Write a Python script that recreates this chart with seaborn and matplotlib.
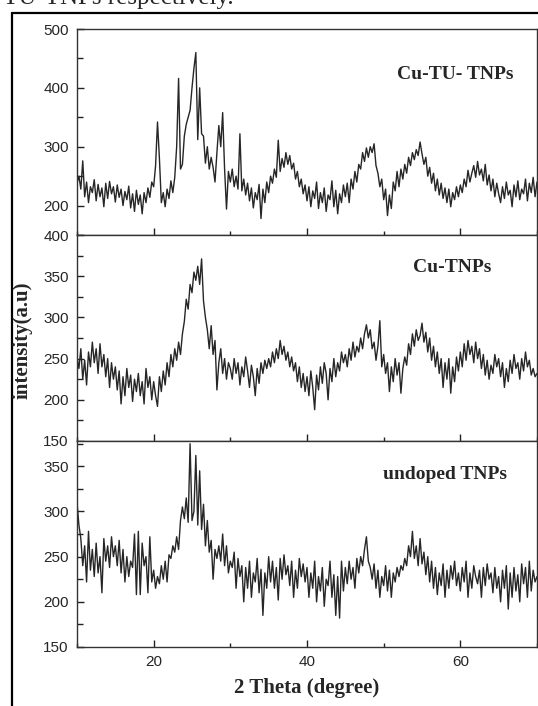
import matplotlib
matplotlib.use('Agg')
import matplotlib.pyplot as plt
from matplotlib.lines import Line2D
from matplotlib.ticker import MultipleLocator
import numpy as np
import seaborn as sns

# 2 theta scan grid, 10 -> 70 deg, step 0.25
two_theta = np.arange(241) * 0.25 + 10.0

# XRD intensities (a.u)
cu_tu_tnps = [
    238, 250, 228, 276, 215, 240, 205, 232, 222, 244, 208, 236, 215, 230, 198, 238, 212, 241, 220, 232,
    206, 235, 214, 228, 200, 224, 210, 233, 196, 220, 190, 226, 202, 218, 186, 222, 205, 230, 214, 240,
    232, 268, 342, 280, 205, 222, 198, 228, 212, 242, 222, 248, 300, 416, 262, 270, 318, 338, 350, 362,
    400, 433, 460, 312, 400, 322, 318, 272, 300, 262, 282, 265, 240, 290, 336, 300, 358, 262, 194, 258,
    240, 262, 232, 250, 228, 322, 225, 245, 218, 238, 208, 230, 196, 222, 210, 236, 178, 228, 205, 240,
    222, 250, 238, 262, 248, 311, 258, 280, 265, 290, 270, 285, 262, 272, 245, 258, 232, 245, 220, 235,
    208, 232, 198, 225, 212, 240, 195, 222, 205, 230, 190, 218, 210, 242, 198, 226, 186, 220, 205, 235,
    215, 238, 205, 245, 228, 258, 240, 270, 262, 290, 275, 298, 282, 300, 290, 305, 268, 255, 232, 245,
    210, 228, 183, 218, 195, 240, 225, 258, 232, 262, 245, 270, 255, 282, 268, 290, 278, 295, 285, 308,
    288, 270, 282, 250, 265, 238, 255, 225, 245, 218, 238, 212, 230, 205, 228, 198, 222, 210, 232, 215,
    235, 222, 245, 232, 260, 240, 255, 268, 248, 275, 252, 262, 242, 270, 235, 252, 225, 245, 215, 238,
    220, 205, 232, 212, 240, 218, 226, 198, 235, 215, 242, 210, 228, 220, 245, 208, 238, 222, 248, 215,
    240]

cu_tnps = [
    252, 238, 262, 225, 248, 218, 258, 240, 270, 245, 262, 232, 268, 240, 255, 228, 250, 215, 245, 225,
    240, 212, 235, 195, 228, 205, 238, 215, 230, 198, 225, 210, 232, 205, 222, 195, 238, 215, 228, 200,
    222, 205, 192, 228, 210, 235, 218, 245, 228, 255, 240, 262, 248, 270, 255, 280, 295, 322, 310, 340,
    330, 355, 345, 362, 340, 371, 320, 300, 285, 262, 290, 255, 272, 212, 245, 262, 232, 250, 225, 245,
    238, 225, 250, 232, 245, 218, 240, 228, 252, 235, 215, 242, 228, 205, 238, 220, 245, 232, 248, 238,
    250, 240, 258, 245, 262, 250, 272, 255, 265, 248, 258, 240, 252, 235, 245, 222, 240, 215, 232, 210,
    228, 205, 235, 215, 188, 230, 212, 240, 220, 245, 232, 200, 238, 222, 250, 228, 245, 235, 258, 245,
    255, 240, 262, 248, 270, 252, 265, 258, 275, 262, 280, 291, 275, 285, 262, 270, 248, 265, 296, 240,
    255, 232, 245, 210, 240, 222, 250, 230, 245, 208, 238, 252, 242, 268, 255, 280, 265, 285, 272, 278,
    293, 270, 282, 258, 275, 248, 265, 240, 258, 232, 250, 215, 245, 225, 250, 208, 240, 222, 252, 235,
    258, 240, 268, 248, 272, 255, 265, 245, 270, 250, 262, 238, 255, 230, 248, 225, 242, 232, 255, 240,
    250, 228, 245, 215, 238, 222, 248, 232, 255, 238, 245, 225, 250, 235, 258, 240, 248, 230, 238, 228,
    232]

undoped_tnps = [
    310, 285, 270, 240, 262, 222, 278, 235, 258, 228, 265, 232, 250, 210, 270, 245, 262, 238, 272, 250,
    262, 240, 268, 232, 258, 222, 250, 228, 245, 238, 275, 208, 278, 208, 265, 240, 250, 210, 272, 222,
    235, 215, 228, 220, 240, 225, 245, 222, 252, 248, 262, 255, 272, 258, 290, 305, 292, 315, 288, 375,
    290, 300, 362, 285, 345, 280, 308, 262, 290, 255, 268, 225, 258, 248, 262, 245, 275, 240, 262, 232,
    245, 238, 255, 215, 248, 228, 240, 200, 238, 215, 245, 205, 232, 222, 248, 210, 236, 185, 232, 215,
    250, 222, 245, 215, 238, 202, 248, 225, 252, 230, 240, 218, 245, 205, 235, 215, 248, 228, 242, 222,
    238, 205, 232, 215, 245, 200, 228, 212, 238, 195, 225, 218, 245, 205, 230, 185, 228, 182, 245, 212,
    238, 220, 245, 225, 238, 215, 248, 232, 250, 240, 258, 272, 245, 238, 225, 242, 215, 235, 205, 228,
    218, 240, 212, 235, 205, 232, 222, 238, 228, 240, 235, 248, 240, 262, 250, 278, 248, 262, 240, 270,
    242, 255, 230, 250, 222, 245, 215, 238, 208, 232, 218, 242, 205, 235, 215, 240, 225, 245, 218, 232,
    212, 238, 222, 245, 205, 232, 215, 240, 228, 220, 235, 205, 238, 218, 242, 225, 232, 210, 238, 215,
    228, 200, 235, 215, 240, 192, 232, 205, 238, 212, 230, 200, 242, 220, 238, 205, 245, 212, 235, 222,
    228]

sample_names = ['Cu-TU- TNPs', 'Cu-TNPs', 'undoped TNPs']
series = [cu_tu_tnps, cu_tnps, undoped_tnps]
y_limits = [(150, 500), (150, 400), (150, 378)]
y_major = [100, 50, 50]
y_minor = [50, 25, 25]
label_pos = [(0.822, 0.777), (0.816, 0.840), (0.799, 0.836)]

sns.set_style('ticks')
plt.rcParams['font.family'] = ['Liberation Sans', 'DejaVu Sans']
serif = ['Liberation Serif', 'DejaVu Serif']

fig = plt.figure(figsize=(5.38, 7.06), dpi=100)

# three stacked panels sharing the 2 theta axis
left, width, height = 77 / 538, 460 / 538, 206 / 706
bottoms = [1 - 235 / 706, 1 - 441 / 706, 1 - 647 / 706]

for i in range(3):
    ax = fig.add_axes([left, bottoms[i], width, height])
    sns.lineplot(x=two_theta, y=series[i], ax=ax, color='#262626',
                 linewidth=1.0, estimator=None)
    ax.set_xlim(10, 70)
    ax.set_ylim(*y_limits[i])
    ax.xaxis.set_major_locator(MultipleLocator(20))
    ax.xaxis.set_minor_locator(MultipleLocator(10))
    ax.yaxis.set_major_locator(MultipleLocator(y_major[i]))
    ax.yaxis.set_minor_locator(MultipleLocator(y_minor[i]))
    ax.tick_params(which='both', direction='in', color='#222222',
                   labelsize=11, pad=6, width=1)
    ax.tick_params(which='major', length=5)
    ax.tick_params(which='minor', length=3)
    ax.tick_params(axis='y', which='minor', length=4)
    for sp in ax.spines.values():
        sp.set_visible(True)
        sp.set_linewidth(1.0)
        sp.set_color('#333333')
    if i < 2:
        ax.tick_params(axis='x', which='both', labelbottom=False)
    ax.set_xlabel('')
    ax.set_ylabel('')
    ax.text(label_pos[i][0], label_pos[i][1], sample_names[i],
            transform=ax.transAxes, ha='center', va='center',
            fontsize=14, fontweight='bold', family=serif)
    if i == 2:
        ax.set_xlabel('2 Theta (degree)', fontsize=15, fontweight='bold',
                      family=serif, labelpad=6)

fig.text(23 / 538, 1 - 340 / 706, 'intensity(a.u)', rotation=90,
         ha='center', va='center', fontsize=15, fontweight='bold', family=serif)

# border of the clipped page figure, and the caption text cut off above it
fig.add_artist(Line2D([12 / 538, 1], [1 - 12.7 / 706, 1 - 12.7 / 706],
                      color='black', linewidth=1.6))
fig.add_artist(Line2D([12 / 538, 12 / 538], [0, 1 - 12.7 / 706],
                      color='black', linewidth=1.6))
fig.text(3 / 538, 1 - 4 / 706, 'TU-TNPs respectively.', ha='left',
         va='baseline', fontsize=18, family=serif)

fig.savefig('out.png', dpi=100)
